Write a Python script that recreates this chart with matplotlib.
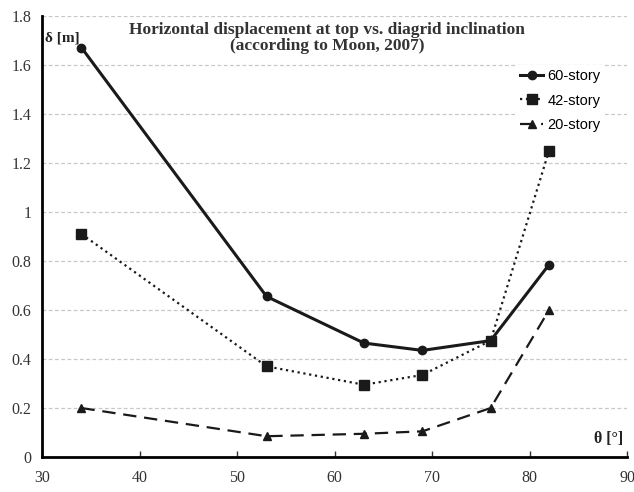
import numpy as np
import matplotlib.pyplot as plt

# diagrid inclination [deg] and top displacement [m]
theta = [34, 53, 63, 69, 76, 82]
d60 = [1.67, 0.655, 0.465, 0.435, 0.475, 0.785]
d42 = [0.91, 0.37, 0.295, 0.335, 0.475, 1.25]
d20 = [0.20, 0.085, 0.095, 0.105, 0.20, 0.60]
labels = ['60-story', '42-story', '20-story']
yticks = [0, 0.2, 0.4, 0.6, 0.8, 1, 1.2, 1.4, 1.6, 1.8]
ytick_labels = ['0', '0.2', '0.4', '0.6', '0.8', '1', '1.2', '1.4', '1.6', '1.8']

serif = 'Liberation Serif'

fig = plt.figure(figsize=(6.34, 4.92), dpi=100)
ax = fig.add_axes([0.067, 0.071, 0.922, 0.897])

ax.plot(theta, d60, '-', color='#1a1a1a', lw=2.2, marker='o', ms=6, label=labels[0])
ax.plot(theta, d42, ':', color='#1a1a1a', lw=1.6, marker='s', ms=7, label=labels[1])
ax.plot(theta, d20, '--', color='#1a1a1a', lw=1.6, marker='^', ms=6, dashes=(6, 3.5), label=labels[2])

ax.set_xlim(30, 90)
ax.set_ylim(0, 1.8)
ax.set_xticks(range(30, 91, 10))
ax.set_yticks(yticks)
ax.set_yticklabels(ytick_labels)
for lab in ax.get_xticklabels() + ax.get_yticklabels():
    lab.set_fontfamily(serif)
    lab.set_fontsize(11.5)
    lab.set_color('#333333')
ax.tick_params(axis='both', length=4, width=1, color='#333333')
ax.tick_params(axis='y', length=0, pad=8)
ax.tick_params(axis='x', pad=9, direction='in')

ax.yaxis.grid(True, ls=(0, (3, 2)), color='#c8c8c8', lw=0.9)
ax.set_axisbelow(True)
for s in ['top', 'right']:
    ax.spines[s].set_visible(False)
ax.spines['left'].set_linewidth(2)
ax.spines['bottom'].set_linewidth(2)

ax.text(59.2, 1.775, 'Horizontal displacement at top vs. diagrid inclination\n(according to Moon, 2007)',
        ha='center', va='top', family=serif, fontweight='bold', fontsize=12.5,
        color='#333333', linespacing=1.05,
        bbox=dict(facecolor='white', edgecolor='none', pad=1))
ax.text(30.3, 1.71, 'δ [m]', ha='left', va='center', family=serif, fontweight='bold',
        fontsize=11, color='#222222')
ax.text(89.6, 0.075, 'θ [°]', ha='right', va='center', family=serif, fontweight='bold',
        fontsize=11.5, color='#222222')

leg = ax.legend(loc='upper right', bbox_to_anchor=(0.975, 0.905), frameon=True,
                prop={'family': 'Liberation Sans', 'size': 10.5}, handlelength=1.6,
                handletextpad=0.3, labelspacing=0.7, borderpad=0.3)
leg.get_frame().set_edgecolor('none')
leg.get_frame().set_facecolor('white')
leg.get_frame().set_alpha(1)

fig.savefig('out.png', dpi=100)
